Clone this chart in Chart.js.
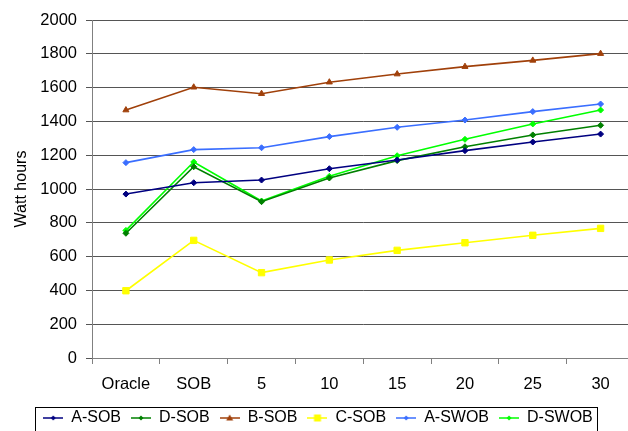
<!DOCTYPE html>
<html>
<head>
<meta charset="utf-8">
<script src="https://cdn.jsdelivr.net/npm/chart.js@4"></script>
<style>
  html, body { margin: 0; padding: 0; background: #fff; overflow: hidden; }
  #wrap { width: 640px; height: 431px; }
</style>
</head>
<body>
<div id="wrap"><canvas id="myChart"></canvas></div>
<script>
// data
var categories = ['Oracle', 'SOB', '5', '10', '15', '20', '25', '30'];
var aSob  = [970, 1037, 1053, 1120, 1172, 1227, 1278, 1325];
var dSob  = [738, 1132, 925, 1065, 1168, 1250, 1320, 1377];
var bSob  = [1467, 1602, 1564, 1632, 1680, 1724, 1761, 1801];
var cSob  = [398, 696, 505, 580, 637, 682, 726, 767];
var aSwob = [1156, 1233, 1244, 1310, 1365, 1408, 1458, 1503];
var dSwob = [755, 1160, 929, 1075, 1197, 1294, 1385, 1467];
var yTicks = [0, 200, 400, 600, 800, 1000, 1200, 1400, 1600, 1800, 2000];

var FONT = 'Liberation Sans, Arial, sans-serif';

function series(label, data, color, style, r) {
    return {
        label: label,
        data: data,
        borderColor: color,
        backgroundColor: color,
        borderWidth: 1.6,
        pointStyle: style,
        pointRadius: r,
        pointBorderWidth: 1,
        tension: 0,
        fill: false
    };
}

// legend symbol: short line with marker in the middle
function legendIcon(color, style) {
    var c = document.createElement('canvas');
    c.width = 20; c.height = 10;
    var g = c.getContext('2d');
    g.strokeStyle = color; g.fillStyle = color; g.lineWidth = 1.5;
    g.beginPath(); g.moveTo(0, 5); g.lineTo(20, 5); g.stroke();
    g.beginPath();
    if (style === 'triangle') { g.moveTo(10, 1.5); g.lineTo(13.5, 7.5); g.lineTo(6.5, 7.5); }
    else if (style === 'rect') { g.rect(6.5, 1.5, 7, 7); }
    else { g.moveTo(10, 2.5); g.lineTo(12.5, 5); g.lineTo(10, 7.5); g.lineTo(7.5, 5); }
    g.closePath(); g.fill();
    return c;
}

var legendBox = {
    id: 'legendBox',
    beforeInit: function (chart) {
        var lg = chart.legend;
        var fit = lg.fit;
        lg.fit = function () { fit.call(this); this.height = 31; };
    },
    afterDraw: function (chart) {
        var boxes = chart.legend.legendHitBoxes;
        if (!boxes || !boxes.length) return;
        var l = boxes[0].left, r = 0;
        boxes.forEach(function (b) { l = Math.min(l, b.left); r = Math.max(r, b.left + b.width); });
        var g = chart.ctx;
        g.save();
        g.strokeStyle = '#000'; g.lineWidth = 1;
        g.strokeRect(Math.round(l) - 7.5, 407.5, Math.round(r - l) + 12, 30);
        g.restore();
    }
};

var ctx = document.getElementById('myChart');
var myChart = new Chart(ctx, {
    type: 'line',
    data: {
        labels: categories,
        datasets: [
            series('A-SOB', aSob, '#000080', 'rectRot', 3),
            series('D-SOB', dSob, '#008000', 'rectRot', 3),
            series('B-SOB', bSob, '#A0400A', 'triangle', 3.5),
            series('C-SOB', cSob, '#FFFF00', 'rect', 4.5),
            series('A-SWOB', aSwob, '#3A6EFF', 'rectRot', 3),
            series('D-SWOB', dSwob, '#00FF00', 'rectRot', 3)
        ]
    },
    options: {
        responsive: true,
        maintainAspectRatio: false,
        animation: false,
        layout: { padding: { top: 20, right: 4, left: 0, bottom: 0 } },
        plugins: {
            tooltip: { enabled: false },
            legend: {
                position: 'bottom',
                labels: {
                    color: '#000',
                    font: { family: FONT, size: 16 },
                    boxWidth: 20,
                    boxHeight: 10,
                    pointStyleWidth: 20,
                    padding: 10,
                    usePointStyle: true,
                    generateLabels: function (chart) {
                        return chart.data.datasets.map(function (ds, i) {
                            return {
                                text: ds.label,
                                pointStyle: legendIcon(ds.borderColor, ds.pointStyle),
                                fillStyle: ds.borderColor,
                                strokeStyle: ds.borderColor,
                                lineWidth: 0,
                                fontColor: '#000',
                                hidden: false,
                                datasetIndex: i
                            };
                        });
                    }
                }
            }
        },
        scales: {
            x: {
                offset: true,
                afterFit: function (s) { s.height = 42; },
                grid: {
                    offset: true,
                    drawOnChartArea: false,
                    drawTicks: true,
                    tickLength: 6,
                    color: '#808080'
                },
                border: { color: '#808080', width: 1 },
                ticks: {
                    color: '#000',
                    padding: 11,
                    maxRotation: 0,
                    font: { family: FONT, size: 16.5 }
                }
            },
            y: {
                min: 0,
                max: 2000,
                afterBuildTicks: function (s) { s.ticks = yTicks.map(function (v) { return { value: v }; }); },
                afterFit: function (s) { s.width = 92; },
                title: {
                    display: true,
                    text: 'Watt hours',
                    color: '#000',
                    font: { family: FONT, size: 16 },
                    padding: { top: 12, bottom: 0 }
                },
                grid: {
                    color: '#555',
                    lineWidth: 1,
                    tickLength: 6
                },
                border: { color: '#808080', width: 1 },
                ticks: {
                    color: '#000',
                    padding: 9,
                    font: { family: FONT, size: 16.5 },
                    callback: function (v) { return String(v); }
                }
            }
        }
    },
    plugins: [legendBox]
});
</script>
</body>
</html>
